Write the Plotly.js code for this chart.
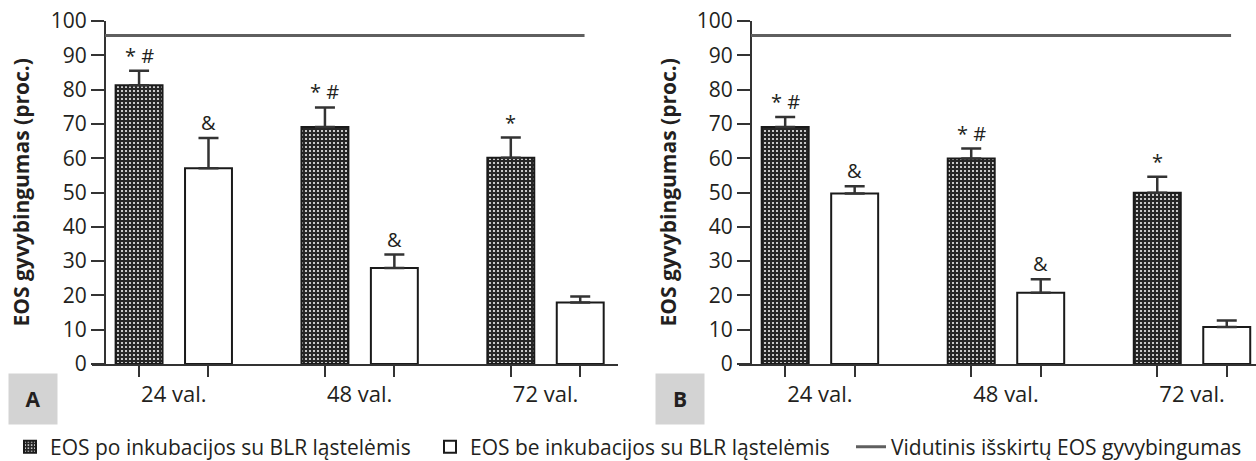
<!DOCTYPE html>
<html>
<head>
<meta charset="utf-8">
<script src="https://cdn.plot.ly/plotly-3.0.1.min.js"></script>
<style>
  html, body { margin: 0; padding: 0; background: #ffffff; }
  #chart { width: 1256px; height: 461px; }
</style>
</head>
<body>
<div id="chart"></div>
<script>
// ---------- data ----------
const categories = ['24 val.', '48 val.', '72 val.'];
const seriesNames = [
  'EOS po inkubacijos su BLR ląstelėmis',
  'EOS be inkubacijos su BLR ląstelėmis',
  'Vidutinis išskirtų EOS gyvybingumas'
];
const panelLabels = ['A', 'B'];
const yTitle = 'EOS gyvybingumas (proc.)';
const yTicks = [0, 10, 20, 30, 40, 50, 60, 70, 80, 90, 100];

// Panel A
const aWith = [81.3, 69.1, 60.1];
const aWithErr = [4.2, 5.7, 5.9];
const aWithout = [57.1, 28.0, 17.9];
const aWithoutErr = [8.8, 3.9, 1.8];
const aWithMarks = ['* #', '* #', '*'];
const aWithoutMarks = ['&', '&', ''];

// Panel B
const bWith = [69.1, 59.9, 49.9];
const bWithErr = [2.9, 2.9, 4.7];
const bWithout = [49.7, 20.8, 10.8];
const bWithoutErr = [2.1, 3.9, 1.9];
const bWithMarks = ['* #', '* #', '*'];
const bWithoutMarks = ['&', '&', ''];

// Mean viability of isolated EOS (horizontal reference line), per panel
const meanViability = [95.8, 95.8];

// ---------- styling ----------
const FONT = 'Open Sans, Noto Sans, sans-serif';
const FS = 21;
const TXT = '#231f20';
const AX = '#333333';
const BARGAP = 0.253;
const BARGROUPGAP = 0.324;
const nSeries = 2;
const slot = (1 - BARGAP) / nSeries;
const offsets = [-slot / 2, slot / 2];

const idx = categories.map((c, i) => i);
const zeros = idx.map(() => 0);
const barCenters = idx.flatMap(i => offsets.map(o => i + o));

const hatch = {
  color: '#e8e8e8',
  line: { color: '#1a1a1a', width: 2 },
  pattern: { shape: '.', fgcolor: '#f0f0f0', bgcolor: '#262626', size: 4, solidity: 0.22 }
};
const plain = { color: '#ffffff', line: { color: '#1a1a1a', width: 2 } };
function errBar(arr) {
  return { type: 'data', symmetric: false, array: arr, arrayminus: zeros,
           color: AX, thickness: 2.5, width: 10 };
}

const panels = [
  { xa: 'x', ya: 'y', xt: 'x3', w: aWith, we: aWithErr, wo: aWithout, woe: aWithoutErr, wm: aWithMarks, wom: aWithoutMarks, titleX: 20 },
  { xa: 'x2', ya: 'y2', xt: 'x4', w: bWith, we: bWithErr, wo: bWithout, woe: bWithoutErr, wm: bWithMarks, wom: bWithoutMarks, titleX: 667 }
];

const traces = [];
const annotations = [];
const shapes = [];

panels.forEach((p, pi) => {
  traces.push({
    type: 'bar', x: idx, y: p.w, name: seriesNames[0], xaxis: p.xa, yaxis: p.ya,
    marker: hatch, error_y: errBar(p.we), showlegend: pi === 0, legend: 'legend',
    hoverinfo: 'y'
  });
  traces.push({
    type: 'bar', x: idx, y: p.wo, name: seriesNames[1], xaxis: p.xa, yaxis: p.ya,
    marker: plain, error_y: errBar(p.woe), showlegend: pi === 0, legend: 'legend2',
    hoverinfo: 'y'
  });
  // invisible helper trace so the overlay tick axis is drawn
  traces.push({
    type: 'scatter', mode: 'markers', x: [idx[0]], y: [null], xaxis: p.xt, yaxis: p.ya,
    showlegend: false, hoverinfo: 'skip', marker: { opacity: 0 }
  });
  idx.forEach(i => {
    [[p.wm, p.w, p.we, 0], [p.wom, p.wo, p.woe, 1]].forEach(([marks, vals, errs, s]) => {
      if (marks[i]) {
        annotations.push({
          xref: p.xa, yref: p.ya, x: i + offsets[s], y: vals[i] + errs[i],
          text: marks[i], showarrow: false, yanchor: 'bottom', yshift: 0,
          font: { family: FONT, size: 20, color: TXT }
        });
      }
    });
  });
  shapes.push({
    type: 'line', xref: p.xa, yref: p.ya, x0: -0.37, x1: 2.21,
    y0: meanViability[pi], y1: meanViability[pi],
    line: { color: '#5f5f5f', width: 3 },
    showlegend: pi === 0, name: seriesNames[2], legend: 'legend3'
  });
  // y-axis title
  annotations.push({
    xref: 'paper', yref: 'paper', x: p.titleX / 1256, y: 0.5,
    xanchor: 'center', yanchor: 'middle', textangle: -90, showarrow: false,
    text: '<b>' + yTitle + '</b>', font: { family: FONT, size: FS, color: TXT }
  });
});

// panel letters
[[33, panelLabels[0]], [680, panelLabels[1]]].forEach(([px, lab]) => {
  annotations.push({
    xref: 'paper', yref: 'paper', x: px / 1256, y: -(399 - 364) / 343,
    xanchor: 'center', yanchor: 'middle', showarrow: false,
    width: 46, height: 48, bgcolor: '#d3d3d3', text: '<b>' + lab + '</b>',
    font: { family: FONT, size: 21, color: TXT }
  });
});

// labelled axis (category labels at group centres, no visible ticks)
function xAxis(domain, range, anchor) {
  return {
    domain: domain, range: range, anchor: anchor,
    showline: true, linecolor: AX, linewidth: 2,
    zeroline: false, showgrid: false,
    tickmode: 'array', tickvals: idx, ticktext: categories,
    ticks: 'outside', ticklen: 10, tickcolor: 'rgba(0,0,0,0)',
    tickfont: { family: FONT, size: 22, color: TXT },
    fixedrange: true
  };
}
// overlay axis carrying the tick marks at the bar centres
function tickAxis(over, domain, range, anchor) {
  return {
    overlaying: over, domain: domain, range: range, anchor: anchor, side: 'bottom',
    showline: false, zeroline: false, showgrid: false, showticklabels: false,
    tickmode: 'array', tickvals: barCenters,
    ticks: 'outside', ticklen: 12, tickwidth: 2, tickcolor: AX,
    fixedrange: true
  };
}
function yAxis(pos) {
  return {
    anchor: 'free', position: pos, range: [0, 100],
    showline: true, linecolor: AX, linewidth: 2, zeroline: false, showgrid: false,
    tickmode: 'array', tickvals: yTicks,
    ticks: 'outside', ticklen: 13, tickwidth: 2, tickcolor: AX,
    tickfont: { family: FONT, size: FS, color: TXT },
    fixedrange: true
  };
}

function legendAt(px) {
  return {
    orientation: 'h', xref: 'container', yref: 'container',
    x: px / 1256, xanchor: 'left', y: (461 - 447) / 461, yanchor: 'middle',
    font: { family: FONT, size: FS, color: TXT },
    bgcolor: 'rgba(0,0,0,0)', itemwidth: 30
  };
}

const domA = [92 / 1256, 618 / 1256], rangeA = [-0.44, 2.39];
const domB = [739 / 1256, 1], rangeB = [-0.435, 2.344];

const layout = {
  width: 1256, height: 461,
  margin: { l: 0, r: 0, t: 21, b: 97 },
  paper_bgcolor: '#ffffff', plot_bgcolor: 'rgba(0,0,0,0)',
  barmode: 'group', bargap: BARGAP, bargroupgap: BARGROUPGAP,
  xaxis: xAxis(domA, rangeA, 'y'),
  xaxis2: xAxis(domB, rangeB, 'y2'),
  xaxis3: tickAxis('x', domA, rangeA, 'y'),
  xaxis4: tickAxis('x2', domB, rangeB, 'y2'),
  yaxis: yAxis(105 / 1256),
  yaxis2: yAxis(751 / 1256),
  showlegend: true,
  legend: legendAt(10),
  legend2: legendAt(430),
  legend3: legendAt(851),
  annotations: annotations,
  shapes: shapes,
  font: { family: FONT, color: TXT }
};

Plotly.newPlot('chart', traces, layout, { displayModeBar: false, staticPlot: true });
</script>
</body>
</html>
